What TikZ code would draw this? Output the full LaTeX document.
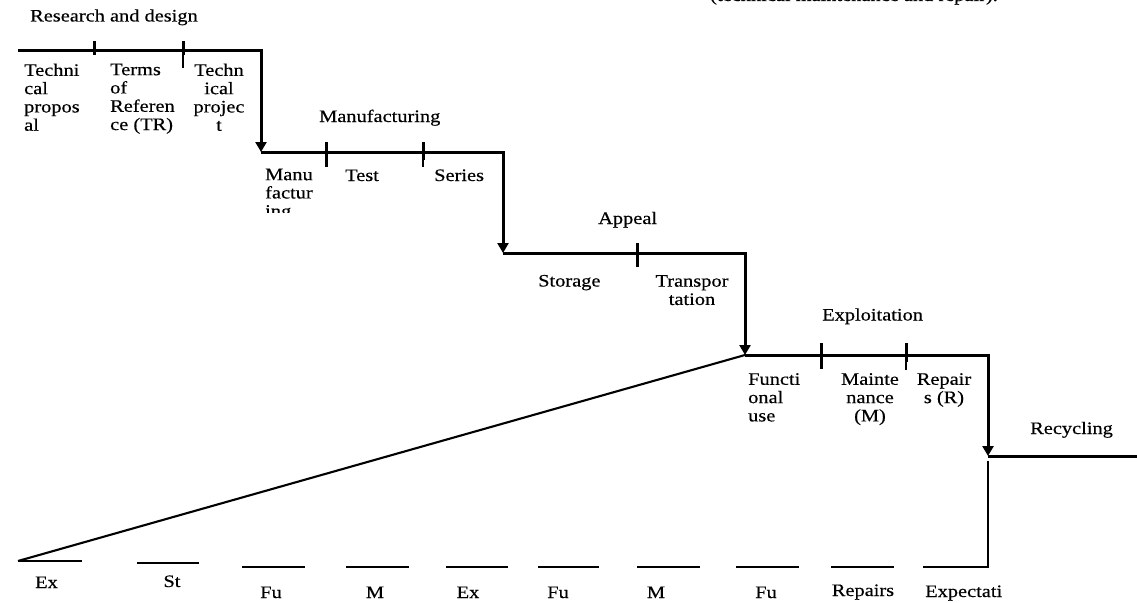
\documentclass[tikz,border=0pt]{standalone}
\usepackage{fontspec}
\setmainfont{Liberation Serif}[FakeStretch=1.165,FakeBold=0.4]
\usetikzlibrary{arrows.meta}

\tikzset{
  stageline/.style={line width=3pt,line join=miter},
  drop/.style={line width=3pt,line join=miter,-{Triangle[width=11pt,length=10pt]}},
  tick/.style={line width=3pt},
  thinline/.style={line width=2.1pt},
  lbl/.style={font=\fontsize{17.5}{18.3}\selectfont,inner sep=0pt},
}

\begin{document}
\begin{tikzpicture}[x=1pt,y=-1pt]
  \useasboundingbox (0,0) rectangle (1137,602);
  % corners of the stairs
  \coordinate (r0) at (18,51);
  \coordinate (r1) at (261,51);
  \coordinate (m0) at (261,152);
  \coordinate (m1) at (503,152);
  \coordinate (a0) at (503,253);
  \coordinate (a1) at (745,253);
  \coordinate (e0) at (745,355);
  \coordinate (e1) at (988,355);
  \coordinate (c0) at (988,456);
  \coordinate (c1) at (1137,456);

  % stairs
  \draw [drop] (r0) -- (r1) -- (m0);
  \draw [drop] (m0) -- (m1) -- (a0);
  \draw [drop] (a0) -- (a1) -- (e0);
  \draw [drop] (e0) -- (e1) -- (c0);
  \draw [stageline] (c0) -- (c1);

  % ticks
  \draw [tick] (94,41.5) -- (94,55);
  \draw [tick] (183,41.5) -- (183,55);
  \draw [line width=1.2pt] (183,55) -- (183,68);
  \draw [tick] (326,142) -- (326,167);
  \draw [tick] (423,142) -- (423,160);
  \draw [line width=1.6pt] (423,160) -- (423,167);
  \draw [tick] (637,243) -- (637,267);
  \draw [tick] (821,343) -- (821,369);
  \draw [tick] (906,343) -- (906,362);
  \draw [line width=1.4pt] (906,362) -- (906,370);

  % cut off note on top
  \node [lbl,anchor=base] (note) at (854,1) {(technical maintenance and repair).};

  % research and design
  \node [lbl,anchor=base west] (rd) at (30,21.5) {Research and design};
  \node [lbl,anchor=north west,align=left] (tp) at (24,63.5) {Techni\\cal\\propos\\al};
  \node [lbl,anchor=north west,align=left] (tr) at (110,63.5) {Terms\\of\\Referen\\ce (TR)};
  \node [lbl,anchor=north,align=center] (tj) at (219,63.5) {Techn\\ical\\projec\\t};

  % manufacturing
  \node [lbl,anchor=base west] (mf) at (319,122) {Manufacturing};
  \begin{scope}
    \clip (255,160) rectangle (330,212.5);
    \node [lbl,anchor=north west,align=left] (mu) at (265,168.5) {Manu\\factur\\ing};
  \end{scope}
  \node [lbl,anchor=base west] (ts) at (345,181) {Test};
  \node [lbl,anchor=base west] (sr) at (434,181) {Series};

  % appeal
  \node [lbl,anchor=base west] (ap) at (598,224) {Appeal};
  \node [lbl,anchor=base west] (sg) at (538,286.5) {Storage};
  \node [lbl,anchor=north,align=center] (tt) at (692,275) {Transpor\\tation};

  % exploitation
  \node [lbl,anchor=base west] (ex) at (822,320.5) {Exploitation};
  \node [lbl,anchor=north west,align=left] (fu) at (748,373) {Functi\\onal\\use};
  \node [lbl,anchor=north,align=center] (mt) at (870,373) {Mainte\\nance\\(M)};
  \node [lbl,anchor=north,align=center] (rp) at (944,373) {Repair\\s (R)};

  % recycling
  \node [lbl,anchor=base west] (rc) at (1030,434) {Recycling};

  % bottom row
  \foreach \i/\xa/\xb/\yy/\xt/\yt/\txt in {1/18/82/561/46.5/588/Ex,
      2/137/199/563/172/587/St, 3/242/305/567/271/598/Fu,
      4/346/409/567/375/598/M, 5/446/508/567/468/598/Ex,
      6/538/599/567/558/598/Fu, 7/637/700/567/656/598/M,
      8/736/799/567/766/598/Fu, 9/831/894/567/863/596/Repairs}
  {
    \draw [thinline] (\xa,\yy) coordinate (s\i a) -- (\xb,\yy) coordinate (s\i b);
    \node [lbl,anchor=base] (t\i) at (\xt,\yt) {\txt};
  }
  \coordinate (c2) at (988,461);
  \coordinate (c3) at (988,567);
  \coordinate (s10a) at (923,567);
  \draw [thinline,line join=miter] (c2) -- (c3) -- (s10a);
  \node [lbl,anchor=base west] (t10) at (925,597) {Expectati};

  % lifetime diagonal
  \draw [thinline] (s1a) -- (e0);
\end{tikzpicture}
\end{document}
